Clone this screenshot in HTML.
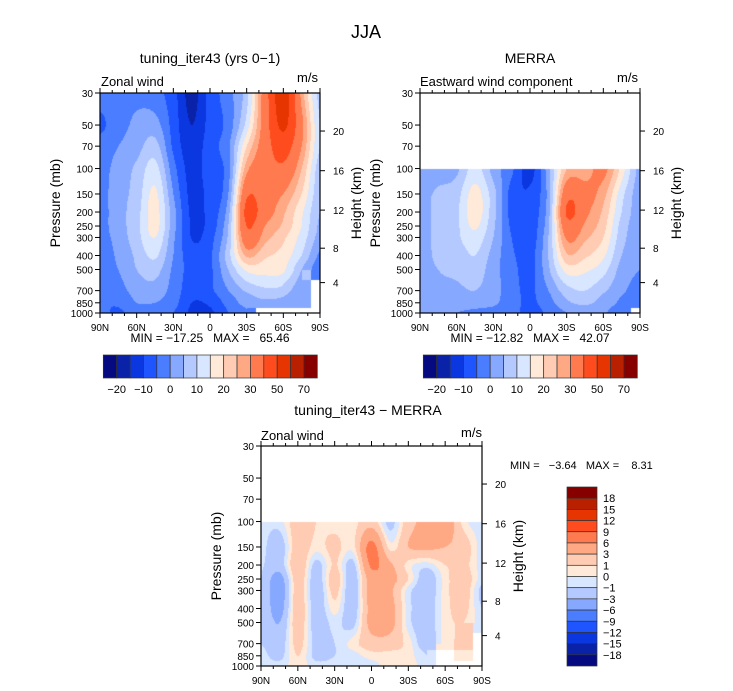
<!DOCTYPE html>
<html><head><meta charset="utf-8"><style>
html,body{margin:0;padding:0;background:#fff;}
#root{position:relative;width:733px;height:691px;overflow:hidden;font-family:"Liberation Sans",sans-serif;}
canvas{position:absolute;}
svg{position:absolute;left:0;top:0;}
text{white-space:pre;}
</style></head><body>
<div id="root">
<canvas id="c1" style="left:100px;top:93px" width="220" height="220"></canvas>
<canvas id="c2" style="left:420px;top:93px" width="220" height="220"></canvas>
<canvas id="c3" style="left:261px;top:446px" width="221" height="220"></canvas>
<svg id="s" width="733" height="691"></svg>
</div>
<script>
const pressures=[30,50,70,100,150,200,250,300,400,500,700,850,1000];
const lats=[90,75,60,45,30,15,0,-15,-30,-45,-60,-75,-90];
const latLabels=["90N","60N","30N","0","30S","60S","90S"];
const latTicks=[90,60,30,0,-30,-60,-90];
const heightKm=[4,8,12,16,20];
const heightP=[616,356,194,103.5,55];
const N=NaN;
const modelU=[
[-3,-2,-1,-3,-8,-17,-8,-2,8,35,56,28,8],
[-6,-2,1,2,-7,-15,-8,-3,12,35,52,32,10],
[-3,0,3,7,-6,-13,-7,-1,20,35,45,30,10],
[-2,2,6,12,-3,-12,-7,-2,28,35,38,25,7],
[-2,3,7,16,0,-11.5,-8,0,38,34,30,20,6],
[-2,3,8,17,2,-11,-8,3,43,34,26,16,5],
[-2,3,8,17,2,-10.5,-8,5,40,30,24,15,4],
[-2,2,8,15,1,-10.2,-7,6,36,27,21,13,3],
[-3,1,6,11,0,-8,-6,8,26,21,18,10,-1],
[-3,0,5,7,-1,-7,-6,5,16,17,16,5,-3],
[-4,-2,2,3,-2,-8,-6,0,6,9,8,1,N],
[-5,-4,0,0,-3,-10,-9,-3,2,4,3,0,N],
[-3,-6,-2,-3,-5,-11,-11,-5,-1,N,N,N,N]];
const merraU=[
[N,N,N,N,N,N,N,N,N,N,N,N,N],
[N,N,N,N,N,N,N,N,N,N,N,N,N],
[N,N,N,N,N,N,N,N,N,N,N,N,N],
[2,2,4,12,3,-4,-12,3,25,27,32,18,3],
[3,6,8,17,7,-7,-9,2,36,33,27,12,2],
[4,6,9,18,7,-7,-8,3,41,32,24,10,2],
[4,6,9,16,6,-6,-8,4,36,29,22,8,2],
[4,6,9,13,5,-5,-8,5,31,26,20,7,2],
[3,6,7,10,3,-4,-7,5,24,21,16,5,1],
[3,5,6,8,2,-3,-7,4,17,16,12,3,0],
[3,4,4,5,2,-3,-6,0,8,10,6,1,-2],
[2,3,2,2,1,-3,-6,-2,4,6,3,-1,-4],
[1,1,0,-1,-2,-3,-7,-4,0,2,1,-4,N]];
const diffU=[
[N,N,N,N,N,N,N,N,N,N,N,N,N],
[N,N,N,N,N,N,N,N,N,N,N,N,N],
[N,N,N,N,N,N,N,N,N,N,N,N,N],
[-0.5,-0.5,2,1,0.5,0.5,2,-1.5,2,4,5,0.5,-0.5],
[-0.5,-2,2,0.5,1.5,0.5,7,0.5,3,3.5,3,2,-0.5],
[-0.8,-2,2.5,-1.5,1.2,-1.5,6.5,3.5,0.5,-0.5,1,1.5,-0.5],
[-1,-4,2,-2,2,-2,4.5,4,1,-2,0.5,2,-0.5],
[-1,-4.5,2,-2.2,1.5,-2.2,4.5,3.5,-0.5,-2,0.5,2,-1.5],
[-1,-4,2,-2,0.5,-2,4,4,-0.5,-2,0.5,1.5,-1],
[-1,-3,2,-2,-0.5,-1.5,4,4,-0.5,-2,0.5,1,-0.5],
[-1,-2,1.5,-1.5,-1,0.5,2,2,0.5,-2,0.5,1.5,N],
[-0.5,-1.5,1,-1.5,-1,-0.5,0.5,0.5,0.5,-1,N,0.5,N],
[-0.5,-0.5,0.5,-0.5,-0.5,-0.5,-0.5,0.5,0.5,-0.5,N,N,N]];
const levelsU=[-20,-15,-10,-5,0,5,10,15,20,25,30,40,50,60,70];
const levelsD=[-18,-15,-12,-9,-6,-3,-1,0,1,3,6,9,12,15,18];
const cbLabelsU=["-20","-10","0","10","20","30","50","70"];
const cbLabelsD=["18","15","12","9","6","3","1","0","-1","-3","-6","-9","-12","-15","-18"];
const palette=["#060a80","#0a22a8","#0b37e0","#1e55ff","#4a7dff","#86a8ff","#b4c9ff","#d8e6ff","#ffe9d8","#ffcbb2","#ffa884","#ff7a4e","#ff4c1e","#e63500","#b82000","#860000"];

const LNR=Math.log(1000/30);
const lnP=pressures.map(p=>Math.log(p));
function yOfP(p,y0,h){return y0+h*Math.log(p/30)/LNR;}
function xOfLat(l,x0,w){return x0+w*(90-l)/180;}
function hex(c){return [parseInt(c.slice(1,3),16),parseInt(c.slice(3,5),16),parseInt(c.slice(5,7),16)];}
const rgb=palette.map(hex);
function cr(p0,p1,p2,p3,t){return 0.5*((2*p1)+(-p0+p2)*t+(2*p0-5*p1+4*p2-p3)*t*t+(-p0+3*p1-3*p2+p3)*t*t*t);}
function getv(g,i,j){i=Math.max(0,Math.min(12,i));j=Math.max(0,Math.min(12,j));return g[i][j];}
function sample(g,fx,p){
  const lp=Math.log(p);
  let i=0;while(i<pressures.length-2&&lp>lnP[i+1])i++;
  const t=Math.max(0,Math.min(1,(lp-lnP[i])/(lnP[i+1]-lnP[i])));
  let j=Math.min(11,Math.floor(fx));const s=fx-j;
  const a=g[i][j],b=g[i][j+1],c=g[i+1][j],d=g[i+1][j+1];
  if([a,b,c,d].some(isNaN)){return g[t<0.5?i:i+1][s<0.5?j:j+1];}
  const rows=[];
  for(let di=-1;di<=2;di++){
    const vals=[];for(let dj=-1;dj<=2;dj++){let v=getv(g,i+di,j+dj);vals.push(v);}
    if(vals.some(isNaN)){const r=getv(g,Math.max(i,Math.min(i+1,i+di)),j)*(1-s)+getv(g,Math.max(i,Math.min(i+1,i+di)),j+1)*s;rows.push(r);}
    else rows.push(cr(vals[0],vals[1],vals[2],vals[3],s));
  }
  if(rows.some(isNaN)) return (a*(1-s)+b*s)*(1-t)+(c*(1-s)+d*s)*t;
  return cr(rows[0],rows[1],rows[2],rows[3],t);
}
function drawField(id,g,levels,ptop){
  const cv=document.getElementById(id),ctx=cv.getContext('2d');
  const W=cv.width,H=cv.height,img=ctx.createImageData(W,H);
  for(let y=0;y<H;y++){const p=30*Math.exp((y+0.5)/H*LNR);
    for(let x=0;x<W;x++){const k=(y*W+x)*4;
      let v=p<ptop?NaN:sample(g,(x+0.5)/W*12,p);
      if(isNaN(v)){img.data[k]=255;img.data[k+1]=255;img.data[k+2]=255;img.data[k+3]=255;continue;}
      let ci=0;while(ci<levels.length&&v>=levels[ci])ci++;
      const c=rgb[ci];img.data[k]=c[0];img.data[k+1]=c[1];img.data[k+2]=c[2];img.data[k+3]=255;}}
  ctx.putImageData(img,0,0);
}
drawField('c1',modelU,levelsU,30);
drawField('c2',merraU,levelsU,100);
drawField('c3',diffU,levelsD,100);

const S=document.getElementById('s');const NS='http://www.w3.org/2000/svg';
function el(tag,attrs,txt){const e=document.createElementNS(NS,tag);for(const k in attrs)e.setAttribute(k,attrs[k]);if(txt!==undefined)e.textContent=txt;S.appendChild(e);return e;}
function text(x,y,t,size,anchor,name,rot){const a={x:x,y:y,'font-size':size,'text-anchor':anchor||'start',fill:'#000','font-family':'Liberation Sans, sans-serif'};if(rot)a.transform='rotate(-90 '+x+' '+y+')';const e=el('text',a,t);


return e;}
function line(x1,y1,x2,y2,name){const e=el('line',{x1:x1,y1:y1,x2:x2,y2:y2,stroke:'#000','stroke-width':1});

}

function axes(x0,y0,w,h,pre){
  const r=el('rect',{x:x0,y:y0,width:w,height:h,fill:'none',stroke:'#000','stroke-width':1.2});
  
  
  pressures.forEach(p=>{const y=yOfP(p,y0,h);line(x0-5,y,x0,y,pre+'-pressure-tick');text(x0-7,y+4,String(p),10,'end',pre+'-pressure-label');});
  for(let l=90;l>=-90;l-=10){const x=xOfLat(l,x0,w);const m=l%30===0;line(x,y0+h,x,y0+h+(m?5:3),pre+'-lat-tick');line(x,y0,x,y0-(m?5:3),pre+'-top-tick');}
  latTicks.forEach((l,i)=>text(xOfLat(l,x0,w),y0+h+18,latLabels[i],10,'middle',pre+'-lat-label'));
  heightKm.forEach((k,i)=>{const y=yOfP(heightP[i],y0,h);line(x0+w,y,x0+w+5,y,pre+'-height-tick');text(x0+w+13,y+4,String(k),10,'start',pre+'-height-label');});
  text(x0-40,y0+h/2,'Pressure (mb)',14,'middle',pre+'-pressure-axis-title',true);
  text(x0+w+41,y0+h/2,'Height (km)',14,'middle',pre+'-height-axis-title',true);
}
axes(100,93,220,220,'model');
axes(420,93,220,220,'merra');
axes(261,446,221,220,'diff');

text(366,38,'JJA',18,'middle','main-title');
text(210,63,'tuning_iter43 (yrs 0\u22121)',14,'middle','model-panel-title');
text(530,63,'MERRA',14,'middle','merra-panel-title');
text(101,86,'Zonal wind',13,'start','model-variable-label');
text(318,82,'m/s',13,'end','model-units-label');
text(420,86,'Eastward wind component',13,'start','merra-variable-label');
text(638,82,'m/s',13,'end','merra-units-label');
text(368,415,'tuning_iter43 \u2212 MERRA',14,'middle','diff-panel-title');
text(261,440,'Zonal wind',13,'start','diff-variable-label');
text(482,437,'m/s',13,'end','diff-units-label');
text(210,342,'MIN = \u221217.25   MAX =   65.46',12,'middle','model-min-max');
text(530,342,'MIN = \u221212.82   MAX =   42.07',12,'middle','merra-min-max');
text(510,469,'MIN =   \u22123.64   MAX =    8.31',11,'start','diff-min-max');

function hbar(x0,pre){const w=214/16;
  palette.forEach((c,i)=>{const r=el('rect',{x:x0+i*w,y:355,width:w,height:23,fill:c,stroke:'#333','stroke-width':0.7});
  
  });
  cbLabelsU.forEach((t,i)=>text(x0+(1+2*i)*w,393,t.replace('-','\u2212'),11,'middle',pre+'-colorbar-label'));}
hbar(103.3,'model');hbar(423.3,'merra');
(function(){const x0=567,y0=487,h=179/16;
  palette.slice().reverse().forEach((c,i)=>{const r=el('rect',{x:x0,y:y0+i*h,width:30,height:h,fill:c,stroke:'#333','stroke-width':0.7});
  
  });
  cbLabelsD.forEach((t,i)=>text(603,y0+(i+1)*h+4,t.replace('-','\u2212'),11,'start','diff-colorbar-label'));})();
</script>
</body></html>
